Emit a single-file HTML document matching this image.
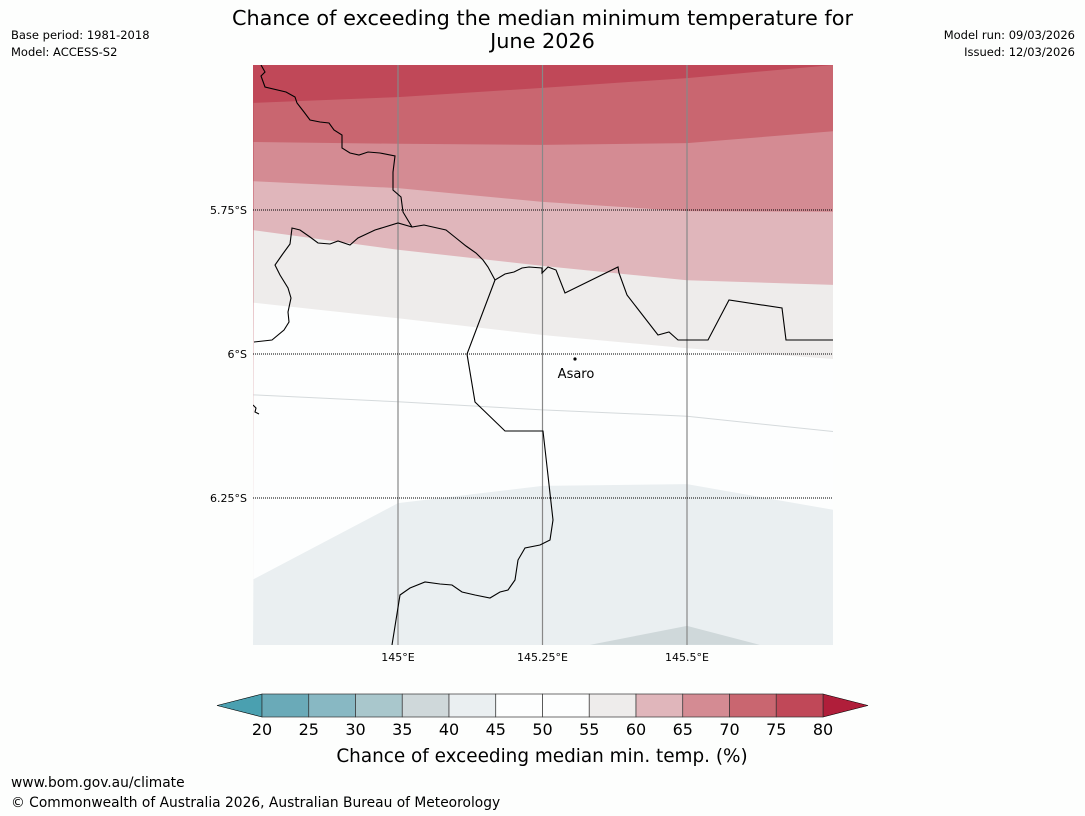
<!DOCTYPE html>
<html><head><meta charset="utf-8"><style>
body{margin:0;background:#fdfefd;font-family:"Liberation Sans","DejaVu Sans",sans-serif}
#wrap{position:relative;width:1085px;height:816px;overflow:hidden;background:#fdfefd}
.t{position:absolute;color:#000}
</style></head><body>
<div id="wrap">
<div class="t" style="left:150px;width:785px;top:7px;text-align:center;font-size:20.8px;line-height:23px;font-family:'DejaVu Sans',sans-serif">Chance of exceeding the median minimum temperature for<br>June 2026</div>
<div class="t" style="left:11px;top:27px;font-size:11.5px;font-family:'DejaVu Sans',sans-serif;line-height:17px">Base period: 1981-2018<br>Model: ACCESS-S2</div>
<div class="t" style="right:10px;top:27px;font-size:11.5px;font-family:'DejaVu Sans',sans-serif;line-height:17px;text-align:right">Model run: 09/03/2026<br>Issued: 12/03/2026</div>
<div class="t" style="left:11px;top:775px;font-size:13.8px;font-family:'DejaVu Sans',sans-serif">www.bom.gov.au/climate</div>
<div class="t" style="left:11px;top:795px;font-size:13.8px;font-family:'DejaVu Sans',sans-serif">© Commonwealth of Australia 2026, Australian Bureau of Meteorology</div>
<svg id="svg" width="1085" height="816" style="position:absolute;left:0;top:0" font-family="DejaVu Sans, sans-serif"></svg>
</div>
<script>
const lons=[144.75,145,145.25,145.5,145.756];
const boundaries=[
[-5.564,-5.554,-5.538,-5.521,-5.498],
[-5.632,-5.635,-5.637,-5.634,-5.613],
[-5.700,-5.712,-5.736,-5.752,-5.753],
[-5.785,-5.819,-5.847,-5.872,-5.880],
[-5.911,-5.938,-5.967,-5.990,-6.009],
[-6.071,-6.083,-6.097,-6.108,-6.135]];
const bandColors=['#c96670','#d48b93','#e0b6bb','#eeeceb','#fdfefe'];
const topColor='#c04858';
const lowLons=[144.75,145,145.25,145.5,145.756];
const lowLats=[-6.391,-6.259,-6.229,-6.226,-6.271];
const lowerLons=[145.332,145.5,145.626];
const lowerLats=[-6.505,-6.472,-6.505];
const lonTicks=[145,145.25,145.5];
const lonTickLabels=['145°E','145.25°E','145.5°E'];
const latTicks=[-5.75,-6,-6.25];
const latTickLabels=['5.75°S','6°S','6.25°S'];
const cbLevels=[20,25,30,35,40,45,50,55,60,65,70,75,80];
const cbColors=['#6aaab8','#88b8c3','#a9c7cc','#cfd8da','#eaeff1','#fdfefe','#fdfefe','#eeeceb','#e0b6bb','#d48b93','#c96670','#c04858'];
const X0=253,X1=833,Y0=65,Y1=645;
const px=lon=>398+(lon-145)*578;
const py=lat=>210+(-5.75-lat)*576;
const NS='http://www.w3.org/2000/svg';
const svg=document.getElementById('svg');
function mk(tag,attrs,parent){const e=document.createElementNS(NS,tag);for(const k in attrs)e.setAttribute(k,attrs[k]);(parent||svg).appendChild(e);return e;}
const defs=mk('defs',{});const cp=mk('clipPath',{id:'clip'},defs);mk('rect',{x:X0,y:Y0,width:X1-X0,height:Y1-Y0},cp);
const g=mk('g',{'clip-path':'url(#clip)'});
let e=mk('rect',{x:X0,y:Y0,width:X1-X0,height:Y1-Y0,fill:topColor},g);

boundaries.slice(0,5).forEach((b,i)=>{
 const pts=lons.map((l,j)=>px(l)+','+py(b[j])).join(' ')+' '+X1+','+Y1+' '+X0+','+Y1;
 const p=mk('polygon',{points:pts,fill:bandColors[i]},g);
 
 
});
e=mk('polyline',{points:lons.map((l,j)=>px(l)+','+py(boundaries[5][j])).join(' '),fill:'none',stroke:'#d5dadc','stroke-width':1},g);

e=mk('polygon',{points:lowLons.map((l,j)=>px(l)+','+py(lowLats[j])).join(' ')+' '+X1+','+Y1+' '+X0+','+Y1,fill:'#eaeff1'},g);

e=mk('polygon',{points:lowerLons.map((l,j)=>px(l)+','+py(lowerLats[j])).join(' '),fill:'#cfd8da'},g);

lonTicks.forEach((l,i)=>{
 const x=px(l);
 const ln=mk('line',{x1:x,x2:x,y1:Y0,y2:Y1,stroke:'#888','stroke-width':1.2},g);
 
 const t=mk('text',{x:x,y:661,'font-size':11,'text-anchor':'middle'});t.textContent=lonTickLabels[i];
 
});
latTicks.forEach((l,i)=>{
 const y=py(l);
 const ln=mk('line',{x1:X0,x2:X1,y1:y,y2:y,stroke:'#000','stroke-width':1,'stroke-dasharray':'1,1'},g);
 
 const t=mk('text',{x:247,y:y+4,'font-size':11,'text-anchor':'end'});t.textContent=latTickLabels[i];
 
});
const coasts=[
'261,65 265,72 261,76 265,87 286,92 295,97 297,103 304,112 310,120 320,122 329,123 334,130 342,135 342,148 350,153 359,155 368,152 380,153 395,156 393,172 393,190 401,197 403,212 412,227 424,225 446,230 456,238 466,246 476,253 483,260 488,267 495,280 505,274 514,272 522,268 529,267 542,268 542,273 548,267 556,270 565,293 618,267 619,273 627,295 658,335 669,332 678,340 708,340 729,300 782,308 786,340 833,340',
'254,342 272,340 284,330 289,322 288,312 291,298 288,288 280,275 275,265 282,255 290,244 292,228 300,230 310,237 318,243 330,244 338,241 350,245 358,238 375,230 398,223 412,227',
'495,280 467,354 475,402 505,431 543,431 553,520 550,540 540,545 525,548 518,560 515,580 508,590 500,592 490,598 475,595 462,592 452,585 440,584 425,582 410,588 400,595 392,645',
'253,405 256,408 255,412 259,414'];
coasts.forEach(c=>{const p=mk('polyline',{points:c,fill:'none',stroke:'#000','stroke-width':1.1},g);
 });
e=mk('circle',{cx:575,cy:359,r:1.6,fill:'#000'});
e=mk('text',{x:576,y:378,'font-size':13,'text-anchor':'middle'});e.textContent='Asaro';
const CB0=262,CB1=823,CBy=694,CBh=23,w=(CB1-CB0)/cbColors.length;
e=mk('polygon',{points:`${CB0},${CBy} 217,${CBy+CBh/2} ${CB0},${CBy+CBh}`,fill:'#4aa0b0',stroke:'#000','stroke-width':0.6});

e=mk('polygon',{points:`${CB1},${CBy} 868,${CBy+CBh/2} ${CB1},${CBy+CBh}`,fill:'#b01e3a',stroke:'#000','stroke-width':0.6});

cbColors.forEach((c,i)=>{const r=mk('rect',{x:CB0+i*w,y:CBy,width:w,height:CBh,fill:c,stroke:'#333','stroke-width':0.7});
 });
cbLevels.forEach((v,i)=>{const t=mk('text',{x:CB0+i*w,y:735,'font-size':16,'text-anchor':'middle'});t.textContent=v;
 });
e=mk('text',{x:542,y:762,'font-size':18.4,'text-anchor':'middle'});e.textContent='Chance of exceeding median min. temp. (%)';

</script>
</body></html>
